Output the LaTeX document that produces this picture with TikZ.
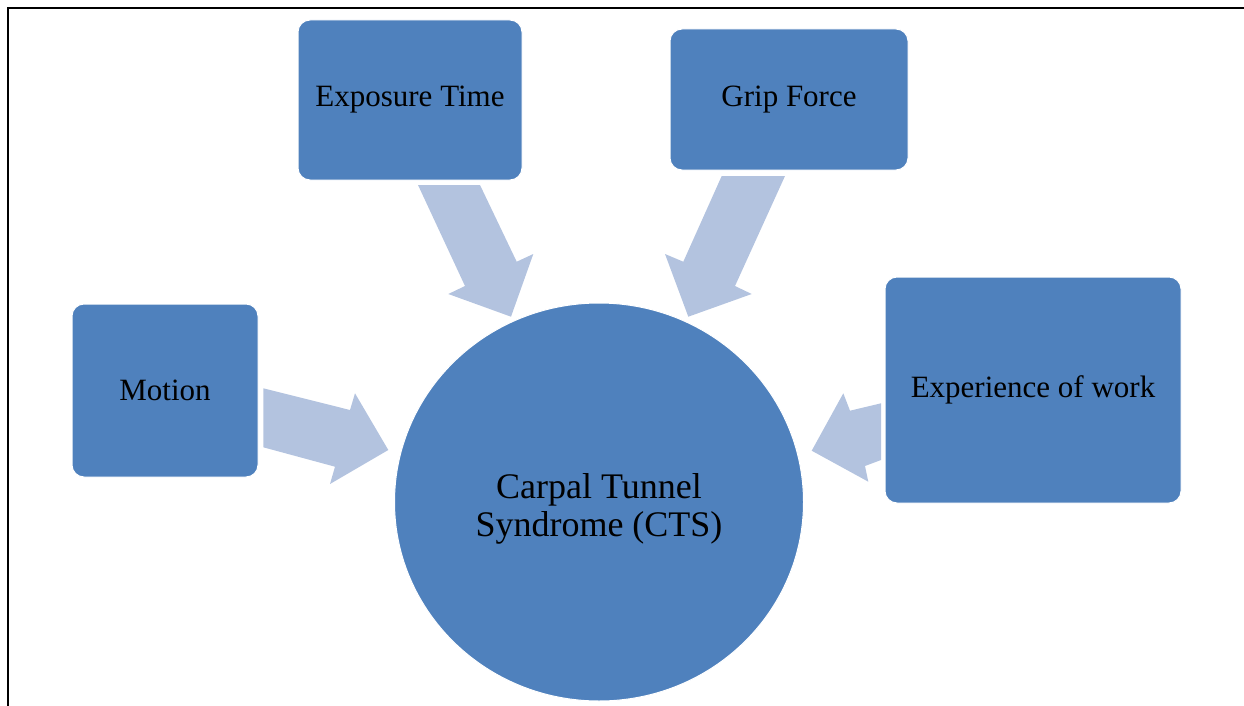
\documentclass[tikz,border=0pt]{standalone}
\usepackage{fontspec}
\usetikzlibrary{shapes.geometric}
\setmainfont{Liberation Serif}
\definecolor{boxblue}{HTML}{4F81BD}
\definecolor{arrowblue}{HTML}{B3C3DF}
\begin{document}
\begin{tikzpicture}[x=1pt,y=-1pt,
  factor/.style={draw=white, line width=1pt, fill=boxblue, rounded corners=12pt, inner sep=0pt, font=\fontsize{31}{36}\selectfont, text=black},
  blockarrow/.style={fill=arrowblue, draw=none},
  frame/.style={line width=2.8pt, black}]
\useasboundingbox (0,0) rectangle (1244,706);
% frame (top and left edges)
\draw[frame] (8,706) -- (8,8) -- (1244,8);
% central ellipse
\node[ellipse, fill=boxblue, draw=white, line width=1pt, minimum width=409pt, minimum height=398pt, inner sep=0pt] (cts) at (599,502) {};
\node[font=\fontsize{36}{38}\selectfont, align=center, text=black] (ctstext) at (599,509) {Carpal Tunnel\\Syndrome (CTS)};
% factor boxes
\node[factor, minimum width=224pt, minimum height=160pt] (exp) at (410,100) {\raisebox{-2pt}{Exposure Time}};
\node[factor, minimum width=238pt, minimum height=141pt] (grip) at (789,99.5) {\raisebox{-2pt}{Grip Force}};
\node[factor, minimum width=186pt, minimum height=173pt] (mot) at (165,390.5) {Motion};
\node[factor, minimum width=296pt, minimum height=226pt] (work) at (1033,390) {\raisebox{-2pt}{Experience of work}};
% block arrows
\fill[blockarrow] (418,185) -- (480,185) -- (516.7,261.7) -- (533.3,254) -- (511,316.7) -- (448.3,294) -- (465,286) -- cycle;
\fill[blockarrow] (721.7,176) -- (785,176) -- (735,286) -- (751.7,294) -- (688.3,316.7) -- (665,254) -- (683.3,261.7) -- cycle;
\fill[blockarrow] (263.3,388.3) -- (350,410) -- (355,393.3) -- (388.3,450) -- (330,484) -- (335,466.7) -- (263.3,447.3) -- cycle;
\fill[blockarrow] (881,403.3) -- (850,410.7) -- (843.3,393.3) -- (811.7,450.7) -- (868.3,481.7) -- (865,466) -- (881,460) -- cycle;
\end{tikzpicture}
\end{document}
